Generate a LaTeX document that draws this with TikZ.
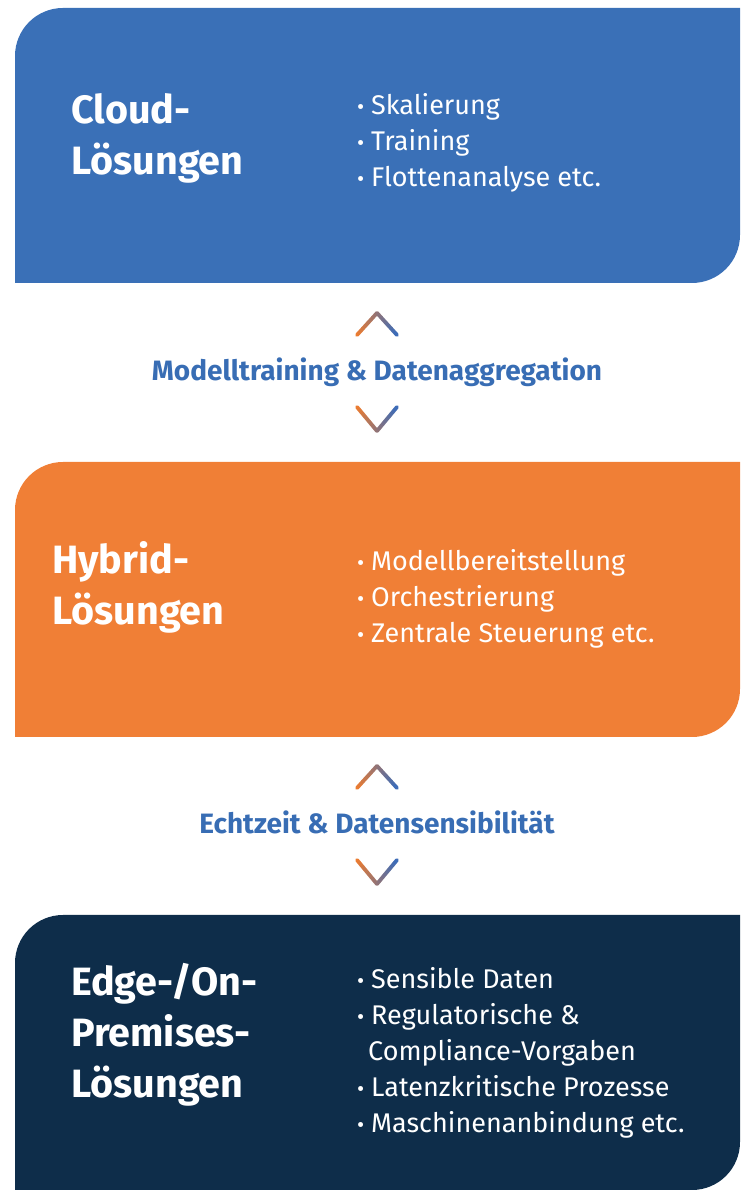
\documentclass[tikz,border=0pt]{standalone}
\usepackage{fontspec}
\setmainfont{Fira Sans}
\usetikzlibrary{positioning,calc}
\definecolor{cloudblue}{RGB}{58,112,183}
\definecolor{hybridorange}{RGB}{240,127,54}
\definecolor{edgenavy}{RGB}{14,45,74}
\definecolor{labelblue}{RGB}{56,109,180}
\definecolor{chevorange}{RGB}{240,124,46}
\definecolor{chevblue}{RGB}{58,108,186}
\newcommand{\bul}{\makebox[14pt][l]{\fontsize{22}{22}\selectfont\textbullet}}
\newcommand{\panel}[2]{\fill[#2] (15,#1-275) -- (15,#1-48) arc[start angle=180,end angle=90,radius=48] -- (740,#1) -- (740,#1-227) arc[start angle=0,end angle=-90,radius=48] -- cycle;}
\newcommand{\chevron}[3]{%
    \foreach \i in {0,...,19}{
        \pgfmathsetmacro{\pct}{97.5-5*\i}
        \pgfmathsetmacro{\xa}{-20+2*\i}
        \pgfmathsetmacro{\xb}{-18+2*\i}
        \pgfmathsetmacro{\ya}{#2+(#3-#2)*(1-abs(\xa)/20)}
        \pgfmathsetmacro{\yb}{#2+(#3-#2)*(1-abs(\xb)/20)}
        \draw[chevorange!\pct!chevblue, line width=3.8pt, line cap=round]
            ($(#1.base)+(\xa,\ya)$) -- ($(#1.base)+(\xb,\yb)$);
    }}
\tikzset{
    titletext/.style={text=white, align=left, inner sep=0, anchor=base west,
        font=\bfseries\fontsize{39.5}{51}\selectfont},
    listtext/.style={text=white, align=left, inner sep=0, anchor=base west,
        font=\fontsize{27}{36}\selectfont},
    midlabel/.style={text=labelblue, inner sep=0, anchor=base,
        font=\bfseries\fontsize{28}{30}\selectfont}
}
\begin{document}
\begin{tikzpicture}[x=1pt, y=1pt]
        \useasboundingbox (0,0) rectangle (753,1204);

        \panel{1196}{cloudblue}
        \panel{742}{hybridorange}
        \panel{289}{edgenavy}

        \node[titletext] (cloud) at (71,1029) {Cloud-\\Lösungen};
        \node[listtext] (cloudlist) at (357,1017)
            {\bul Skalierung\\ \bul Training\\ \bul Flottenanalyse etc.};

        \node[titletext] (hybrid) at (52,579) {Hybrid-\\Lösungen};
        \node[listtext] (hybridlist) at (357,561)
            {\bul Modellbereitstellung\\ \bul Orchestrierung\\ \bul Zentrale Steuerung etc.};

        \node[titletext] (edge) at (71,106) {Edge-/On-\\Premises-\\Lösungen};
        \node[listtext] (edgelist) at (357,71)
            {\bul Sensible Daten\\ \bul Regulatorische \&\\ \hspace{11pt}Compliance-Vorgaben\\
             \bul Latenzkritische Prozesse\\ \bul Maschinenanbindung etc.};

        \node[midlabel] (training) at (377,823) {Modelltraining \& Datenaggregation};
        \node[midlabel] (realtime) at (377,370) {Echtzeit \& Datensensibilität};

        \chevron{training}{46}{68}
        \chevron{training}{-26}{-50}
        \chevron{realtime}{46}{68}
        \chevron{realtime}{-26}{-50}

    \end{tikzpicture}
\end{document}
